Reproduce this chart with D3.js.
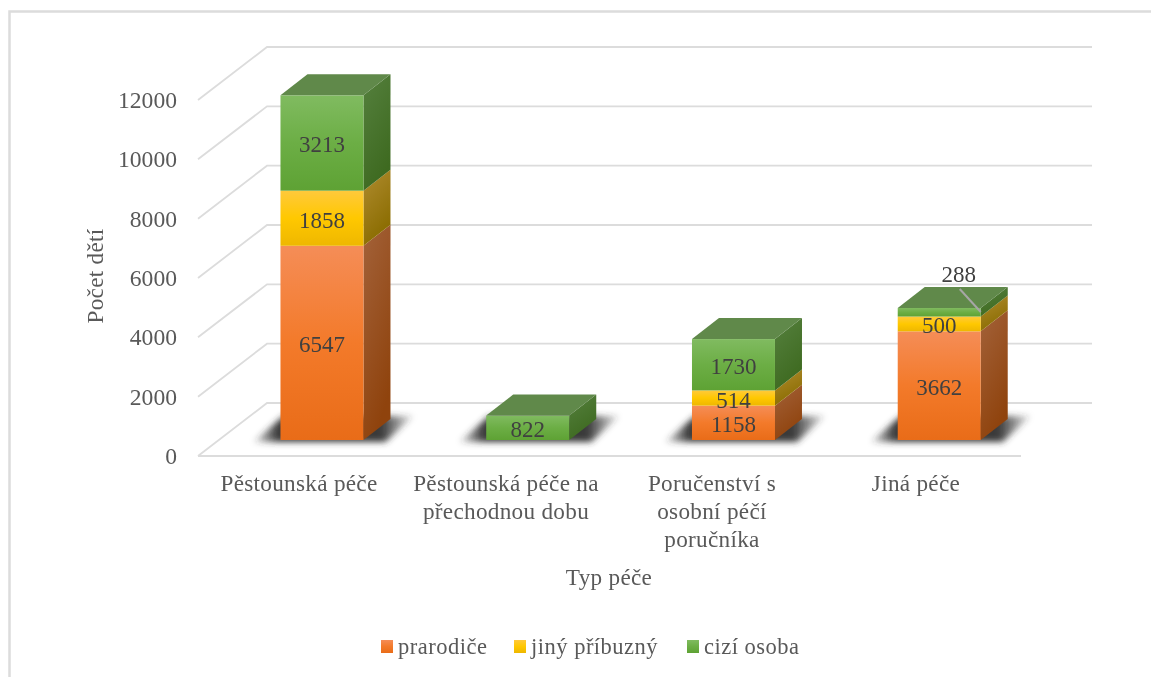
<!DOCTYPE html>
<html><head><meta charset="utf-8">
<script src="https://cdn.jsdelivr.net/npm/d3@7"></script>
<style>html,body{margin:0;padding:0;background:#fff}svg{display:block;filter:blur(.5px)}text{font-family:"Liberation Serif","Times New Roman",serif}</style>
</head><body><svg id="c" width="1151" height="677"></svg>
<script>
const categories=[["Pěstounská péče"],["Pěstounská péče na","přechodnou dobu"],["Poručenství s","osobní péčí","poručníka"],["Jiná péče"]];
const seriesNames=["prarodiče","jiný příbuzný","cizí osoba"];
const prarodice=[6547,0,1158,3662];
const jiny=[1858,0,514,500];
const cizi=[3213,822,1730,288];
const yTicks=[0,2000,4000,6000,8000,10000,12000];
const series=[prarodice,jiny,cizi];
const palettes=[
 {front:["#f58d57","#f37a2a","#e96c18"],side:["#a3623a","#8f430d"]},
 {front:["#ffc93c","#ffc800","#eeb700"],side:["#b08c30","#8a6c00"]},
 {front:["#80bb60","#6cae45","#5ea234"],side:["#55803e","#3e6a20"]}];
const topCol="#60894a";
const W=1151,H=677,dx=27,dy=21,gx=69,gy=53,barW=83;
const svg=d3.select("#c");
const defs=svg.append("defs");
palettes.forEach((p,i)=>{
 const g=defs.append("linearGradient").attr("id","f"+i).attr("x1",0).attr("x2",0).attr("y1",0).attr("y2",1);
 p.front.forEach((c,k)=>g.append("stop").attr("offset",k/2).attr("stop-color",c));
 const s=defs.append("linearGradient").attr("id","s"+i).attr("x1",0).attr("x2",.4).attr("y1",0).attr("y2",1);
 p.side.forEach((c,k)=>s.append("stop").attr("offset",k).attr("stop-color",c));
});
defs.append("filter").attr("id","sh").attr("x","-20%").attr("y","-50%").attr("width","140%").attr("height","200%")
 .append("feGaussianBlur").attr("stdDeviation",3);
const sg=defs.append("linearGradient").attr("id","shg").attr("x1",0).attr("x2",1).attr("y1",0).attr("y2",0);
[[0,.1],[.15,.95],[.8,.95],[1,.1]].forEach(([o,a])=>sg.append("stop").attr("offset",o).attr("stop-color","#303030").attr("stop-opacity",a));
// frame
svg.append("path").attr("d",`M${W} 11.5H9.5V${H}`).attr("fill","none").attr("stroke","#dcdcdc").attr("stroke-width",2.5);
const yFloor=d3.scaleLinear().domain([0,12000]).range([456,100]);
const yBar=d3.scaleLinear().domain([0,12000]).range([440,84]);
const x=d3.scaleBand().domain(d3.range(categories.length)).range([218,1041]);
const labelCx=[299,506,712,916];
const gridC="#dcdcdc";
const grid=svg.append("g").attr("fill","none").attr("stroke",gridC).attr("stroke-width",1.8);
yTicks.forEach(t=>{
 const y=yFloor(t);
 grid.append("path").attr("d",`M198 ${y}L${198+gx} ${y-gy}H1092`);
});
grid.append("path").attr("d",`M198 456H1021`);
// y labels
svg.append("g").selectAll("text").data(yTicks).join("text")
 .attr("x",177).attr("y",d=>yFloor(d)+8).attr("text-anchor","end")
 .attr("font-size",23.6).attr("fill","#595959").text(d=>d);
// bars
const totals=categories.map((_,i)=>series.reduce((a,s)=>a+s[i],0));
categories.forEach((_,i)=>{
 const cx=x(i)+x.bandwidth()/2, L=cx-barW/2+1.1, R=L+barW;
 const g=svg.append("g");
 const b=yBar(0);
 g.append("path").attr("d",`M${L-27} ${b+2}H${R+22}L${R+50} ${b-24}H${L+3}Z`).attr("fill","url(#shg)").attr("filter","url(#sh)");
 let acc=0;
 series.forEach((s,k)=>{
  const v=s[i]; if(!v) return;
  const y0=yBar(acc), y1=yBar(acc+v); acc+=v;
  g.append("path").attr("d",`M${R} ${y0}L${R+dx} ${y0-dy}V${y1-dy}L${R} ${y1}Z`).attr("fill",`url(#s${k})`);
  g.append("rect").attr("x",L).attr("y",y1).attr("width",barW).attr("height",y0-y1).attr("fill",`url(#f${k})`);
 });
 const t=yBar(totals[i]);
 g.append("path").attr("d",`M${L} ${t}L${L+dx} ${t-dy}H${R+dx}L${R} ${t}Z`).attr("fill",topCol);
 acc=0;
 series.forEach((s,k)=>{
  const v=s[i]; if(!v) return;
  const mid=yBar(acc+v/2); acc+=v;
  if(i===3&&k===2){
   g.append("line").attr("x1",L+62).attr("y1",t-19).attr("x2",R).attr("y2",t+4).attr("stroke","#a6a6a6").attr("stroke-width",2);
   g.append("text").attr("x",L+61).attr("y",t-26).attr("text-anchor","middle").attr("font-size",23).attr("fill","#404040").text(v);
  } else {
   g.append("text").attr("x",(L+R)/2).attr("y",mid+9.5).attr("text-anchor","middle").attr("font-size",23).attr("fill","#404040").text(v);
  }
 });
});
// category labels
categories.forEach((lines,i)=>{
 const t=svg.append("text").attr("text-anchor","middle").attr("font-size",23.2).attr("fill","#595959").attr("letter-spacing",.3);
 lines.forEach((l,k)=>t.append("tspan").attr("x",labelCx[i]).attr("y",491+k*28).text(l));
});
svg.append("text").attr("x",609).attr("y",585).attr("text-anchor","middle").attr("font-size",23.2).attr("fill","#595959").attr("letter-spacing",.3).text("Typ péče");
svg.append("text").attr("transform","translate(103,276) rotate(-90)").attr("text-anchor","middle").attr("font-size",23.2).attr("fill","#595959").attr("letter-spacing",.3).text("Počet dětí");
// legend
const legendX=[381,514,687];
seriesNames.forEach((n,k)=>{
 svg.append("rect").attr("x",legendX[k]).attr("y",640).attr("width",12).attr("height",13).attr("fill",`url(#f${k})`);
 svg.append("text").attr("x",legendX[k]+17).attr("y",654).attr("font-size",22.5).attr("letter-spacing",.5).attr("fill","#595959").text(n);
});
</script></body></html>
